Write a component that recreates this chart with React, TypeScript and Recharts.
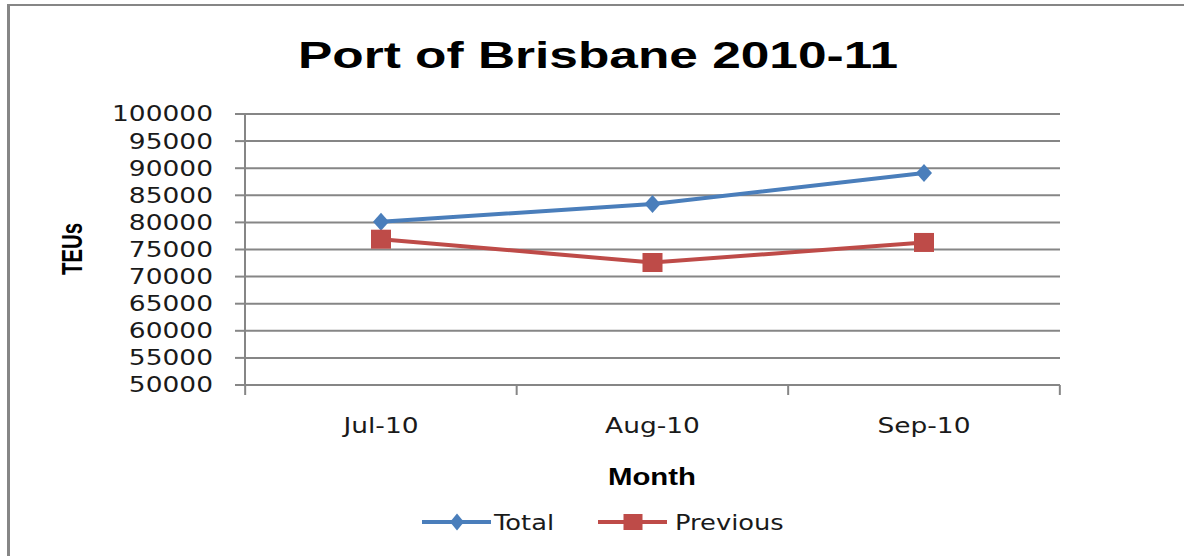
import { LineChart, Line, XAxis, YAxis, CartesianGrid } from 'recharts'

const months = ['Jul-10', 'Aug-10', 'Sep-10']
const total = [80100, 83400, 89100]
const previous = [76900, 72600, 76300]
const yTicks = [50000, 55000, 60000, 65000, 70000, 75000, 80000, 85000, 90000, 95000, 100000]

const data = months.map((month, i) => ({ month, total: total[i], previous: previous[i] }))

const GRID = '#868686'
const BLUE = '#4A7EBB'
const RED = '#BE4B48'
const INK = '#1a1a1a'
const FONT = '"DejaVu Sans", Verdana, sans-serif'
const BOLD = '"Liberation Sans", Arial, sans-serif'
const X_LABEL_GAP = 41

// the source picture is stretched sideways, so text gets a horizontal scale
const YTick = (props: any) => (
  <g transform={`translate(${props.x},${props.y}) scale(1.26,1)`}>
    <text textAnchor="end" dy="0.355em" fontSize={21} fontFamily={FONT} fill={INK}>
      {props.payload.value}
    </text>
  </g>
)

// month label plus the small marks on the category edges (Excel style)
const XTick = (props: any) => {
  const { x, y, width, visibleTicksCount, index } = props
  const band = width / visibleTicksCount
  const axisY = y - X_LABEL_GAP
  return (
    <g>
      <line x1={x - band / 2} y1={axisY} x2={x - band / 2} y2={axisY + 10} stroke={GRID} strokeWidth={2} />
      {index === visibleTicksCount - 1 && (
        <line x1={x + band / 2} y1={axisY} x2={x + band / 2} y2={axisY + 10} stroke={GRID} strokeWidth={2} />
      )}
      <g transform={`translate(${x},${y}) scale(1.26,1)`}>
        <text textAnchor="middle" dy="0.355em" fontSize={21} fontFamily={FONT} fill={INK}>
          {props.payload.value}
        </text>
      </g>
    </g>
  )
}

const Diamond = (props: any) => {
  const { cx, cy, index } = props
  if (cx == null || cy == null) return <g key={`dm-${index}`} />
  return (
    <polygon
      key={`dm-${index}`}
      points={`${cx},${cy - 9} ${cx + 8},${cy} ${cx},${cy + 9} ${cx - 8},${cy}`}
      fill={BLUE}
    />
  )
}

const Square = (props: any) => {
  const { cx, cy, index } = props
  if (cx == null || cy == null) return <g key={`sq-${index}`} />
  return <rect key={`sq-${index}`} x={cx - 10} y={cy - 9.5} width={20} height={19} fill={RED} />
}

export default function App() {
  return (
    <div style={{ position: 'absolute', left: 0, top: 0, width: 1184, height: 556, background: '#fff', overflow: 'hidden' }}>
      {/* frame: only top and left edges are visible */}
      <div style={{ position: 'absolute', left: 7, top: 4, width: 1200, height: 600, borderLeft: `3px solid ${GRID}`, borderTop: `2px solid ${GRID}` }} />

      <div style={{ position: 'absolute', left: 0, top: 0 }}>
        <LineChart width={1184} height={556} data={data} margin={{ top: 114, right: 124, bottom: 111, left: 115 }}>
          <CartesianGrid vertical={false} stroke={GRID} strokeWidth={2} />
          <XAxis
            dataKey="month"
            height={60}
            padding={{ left: 136, right: 136 }}
            stroke={GRID}
            strokeWidth={2}
            tickLine={false}
            tickSize={0}
            tickMargin={X_LABEL_GAP}
            interval={0}
            tick={XTick}
          />
          <YAxis
            domain={[50000, 100000]}
            ticks={yTicks}
            width={130}
            stroke={GRID}
            strokeWidth={2}
            tickSize={10}
            tickMargin={22}
            tick={YTick}
            allowDataOverflow
          />
          <Line dataKey="total" name="Total" stroke={BLUE} strokeWidth={4} dot={Diamond} activeDot={false} isAnimationActive={false} />
          <Line dataKey="previous" name="Previous" stroke={RED} strokeWidth={4} dot={Square} activeDot={false} isAnimationActive={false} />
        </LineChart>
      </div>

      {/* title, axis titles and legend */}
      <svg width={1184} height={556} style={{ position: 'absolute', left: 0, top: 0, pointerEvents: 'none' }}>
        <text x={598} y={68} textAnchor="middle" fontSize={37} fontWeight="bold" fontFamily={BOLD} fill="#000" textLength={600} lengthAdjust="spacingAndGlyphs">
          Port of Brisbane 2010-11
        </text>
        <text transform="translate(72,249) scale(1.25,1) rotate(-90)" textAnchor="middle" dy="0.355em" fontSize={23} fontWeight="bold" fontFamily={BOLD} fill="#000" textLength={52} lengthAdjust="spacingAndGlyphs">
          TEUs
        </text>
        <text x={652} y={485} textAnchor="middle" fontSize={24} fontWeight="bold" fontFamily={BOLD} fill="#000" textLength={88} lengthAdjust="spacingAndGlyphs">
          Month
        </text>

        <line x1={422} y1={522} x2={491} y2={522} stroke={BLUE} strokeWidth={4} />
        <polygon points="457,513.5 464,522 457,530.5 450,522" fill={BLUE} />
        <g transform="translate(494,522) scale(1.17,1)">
          <text dy="0.355em" fontSize={22} fontFamily={FONT} fill={INK}>Total</text>
        </g>

        <line x1={598} y1={522} x2={667} y2={522} stroke={RED} strokeWidth={4} />
        <rect x={623.5} y={514} width={19} height={16} fill={RED} />
        <g transform="translate(675,522) scale(1.17,1)">
          <text dy="0.355em" fontSize={22} fontFamily={FONT} fill={INK}>Previous</text>
        </g>
      </svg>
    </div>
  )
}
